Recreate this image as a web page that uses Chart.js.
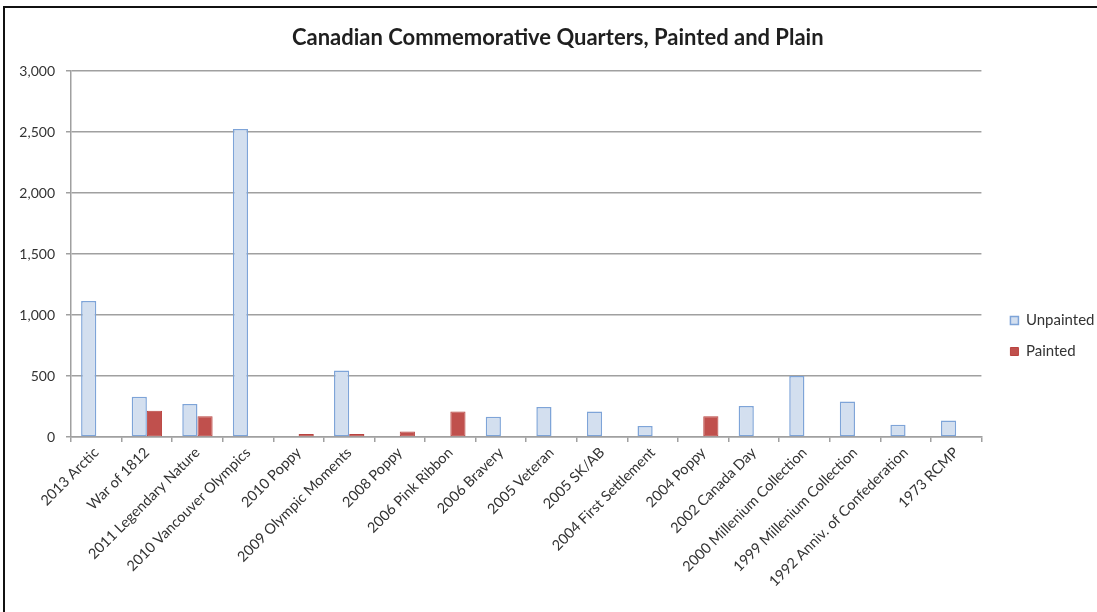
<!DOCTYPE html>
<html>
<head>
<meta charset="utf-8">
<script src="https://cdn.jsdelivr.net/npm/chart.js@4.4.1/dist/chart.umd.min.js"></script>
<style>
  html, body { margin: 0; padding: 0; background: #fff; }
  #wrap { position: relative; width: 1097px; height: 612px; overflow: hidden; }
  #frame { position: absolute; left: 3px; top: 6px; width: 1200px; height: 700px;
           border-left: 2px solid #111; border-top: 2px solid #111; pointer-events: none; }
</style>
</head>
<body>
<div id="wrap">
  <canvas id="quarters" width="1097" height="612"></canvas>
  <div id="frame"></div>
</div>
<script>
const categories = ['2013 Arctic', 'War of 1812', '2011 Legendary Nature', '2010 Vancouver Olympics',
  '2010 Poppy', '2009 Olympic Moments', '2008 Poppy', '2006 Pink Ribbon', '2006 Bravery',
  '2005 Veteran', '2005 SK/AB', '2004 First Settlement', '2004 Poppy', '2002 Canada Day',
  '2000 Millenium Collection', '1999 Millenium Collection', '1992 Anniv. of Confederation', '1973 RCMP'];
const unpainted = [1115, 330, 270, 2525, null, 545, null, null, 165, 245, 210, 90, null, 255, 500, 290, 100, 135];
const painted = [null, 215, 170, null, 25, 25, 45, 210, null, null, null, null, 170, null, null, null, null, null];
const yTicks = [0, 500, 1000, 1500, 2000, 2500, 3000];

const gridGray = '#a0a0a0';
const font = 'Lato';

// move legend and title to where Excel put them
const boxShift = {
  id: 'boxShift',
  afterLayout(chart) {
    const lg = chart.legend;
    lg.left += 13; lg.right += 13;
    lg.top += 30; lg.bottom += 30;
    const t = chart.titleBlock;
    t.left += 12; t.right += 12;
  }
};

const config = {
  type: 'bar',
  data: {
    labels: categories,
    datasets: [{
      label: 'Unpainted',
      data: unpainted,
      backgroundColor: '#d3dfef',
      borderColor: '#7ea4d8',
      borderWidth: 1.5,
      borderSkipped: false
    }, {
      label: 'Painted',
      data: painted,
      backgroundColor: '#c0504d',
      borderColor: '#b9433f',
      borderWidth: 1,
      borderSkipped: false
    }]
  },
  options: {
    responsive: false,
    animation: false,
    layout: { padding: { left: 0, right: 5.5, top: 0, bottom: 0 } },
    datasets: { bar: { categoryPercentage: 0.6, barPercentage: 1.0 } },
    plugins: {
      title: {
        display: true,
        text: 'Canadian Commemorative Quarters, Painted and Plain',
        color: '#1f1f1f',
        font: { family: font, size: 22, weight: 'bold' },
        padding: { top: 24.8, bottom: 19.8 }
      },
      legend: {
        position: 'right',
        labels: {
          boxWidth: 8, boxHeight: 8, padding: 16,
          color: '#333',
          font: { family: font, size: 15 }
        }
      },
      tooltip: { enabled: false }
    },
    scales: {
      x: {
        afterFit(s) { s.height = 175; },
        grid: { display: true, drawOnChartArea: false, offset: true, tickLength: 5, color: gridGray, lineWidth: 1.5 },
        border: { display: true, color: gridGray, width: 1.5 },
        ticks: {
          autoSkip: false, minRotation: 45, maxRotation: 45, padding: 2,
          color: '#333', font: { family: font, size: 14.5 }
        }
      },
      y: {
        min: 0, max: 3000,
        afterFit(s) { s.width = 71; },
        afterBuildTicks(s) { s.ticks = yTicks.map(v => ({ value: v })); },
        grid: { color: gridGray, lineWidth: 1.5, tickLength: 5 },
        border: { display: true, color: gridGray, width: 1.5 },
        ticks: {
          padding: 11, color: '#333', font: { family: font, size: 14 },
          callback: v => v.toLocaleString('en-US')
        }
      }
    }
  },
  plugins: [boxShift]
};

const myChart = new Chart(document.getElementById('quarters'), config);
</script>
</body>
</html>
